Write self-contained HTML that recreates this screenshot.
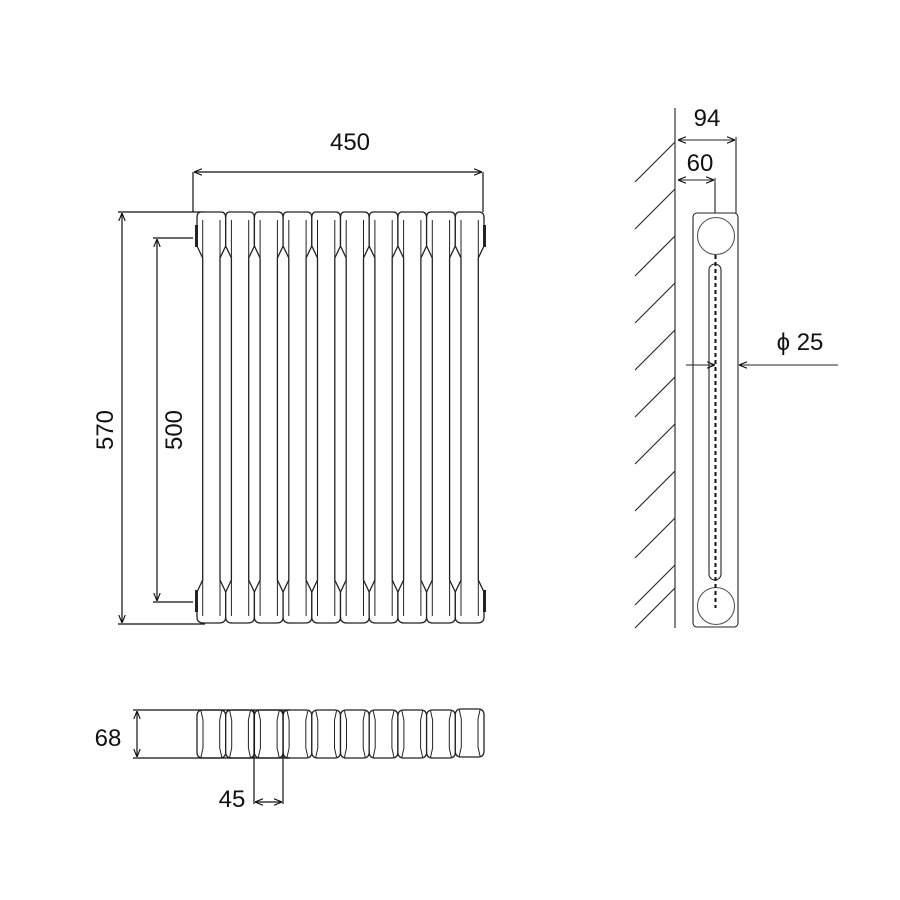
<!DOCTYPE html>
<html><head><meta charset="utf-8"><style>
html,body{margin:0;padding:0;background:#fff;}
svg{display:block;}
text{font-family:"Liberation Sans",sans-serif;fill:#111;}
</style></head><body>
<svg width="900" height="900" viewBox="0 0 900 900" xmlns="http://www.w3.org/2000/svg">
<defs>
<marker id="a" viewBox="0 0 10 10" refX="10" refY="5" markerWidth="8" markerHeight="8" orient="auto-start-reverse" markerUnits="userSpaceOnUse"><path d="M0,1 L10,5 L0,9" fill="none" stroke="#111" stroke-width="1.4"/></marker>
<g id="col">
 <path d="M4,0 H24 Q28.7,0 28.7,6 V34 L23,46 V368 L28.7,380 V405 Q28.7,411 22,411 H6.5 Q0,411 0,405 V380 L5.7,368 V46 L0,34 V6 Q0,0 4,0 Z" fill="#fff" stroke="#222" stroke-width="1.3"/>
 <line x1="5.7" y1="8" x2="5.7" y2="46" stroke="#222" stroke-width="1"/>
 <line x1="23" y1="8" x2="23" y2="46" stroke="#222" stroke-width="1"/>
 <line x1="5.7" y1="368" x2="5.7" y2="404" stroke="#222" stroke-width="1"/>
 <line x1="23" y1="368" x2="23" y2="404" stroke="#222" stroke-width="1"/>
</g>
<g id="bcol">
 <path d="M6,0 H22.7 Q28.7,0 28.7,6 V42 Q28.7,48 22.7,48 H6 Q0,48 0,42 V6 Q0,0 6,0 Z" fill="#fff" stroke="#222" stroke-width="1.3"/>
 <path d="M4,1 L6,10 V38 L4,47 M24.7,1 L22.7,10 V38 L24.7,47" fill="none" stroke="#222" stroke-width="1"/>
</g>
</defs>
<g stroke="#111" stroke-width="1.2" fill="none">
 <line x1="193" y1="172" x2="193" y2="212"/><line x1="483" y1="172" x2="483" y2="212"/>
 <line x1="194" y1="172" x2="482" y2="172" marker-start="url(#a)" marker-end="url(#a)"/>
 <line x1="118" y1="212" x2="205" y2="212"/><line x1="118" y1="624" x2="205" y2="624"/>
 <line x1="122" y1="213" x2="122" y2="623" marker-start="url(#a)" marker-end="url(#a)"/>
 <line x1="153" y1="238" x2="193" y2="238"/><line x1="153" y1="602" x2="193" y2="602"/>
 <line x1="157" y1="239" x2="157" y2="601" marker-start="url(#a)" marker-end="url(#a)"/>
</g>
<g>
 <use href="#col" x="197" y="212"/><use href="#col" x="225.7" y="212"/><use href="#col" x="254.4" y="212"/>
 <use href="#col" x="283.1" y="212"/><use href="#col" x="311.8" y="212"/><use href="#col" x="340.5" y="212"/>
 <use href="#col" x="369.2" y="212"/><use href="#col" x="397.9" y="212"/><use href="#col" x="426.6" y="212"/>
 <use href="#col" x="455.3" y="212"/>
</g>
<rect x="195" y="225" width="3" height="22" fill="#222"/><rect x="483" y="225" width="3" height="22" fill="#222"/>
<rect x="195" y="590" width="3" height="22" fill="#222"/><rect x="483" y="590" width="3" height="22" fill="#222"/>
<text x="350" y="150" font-size="24" text-anchor="middle">450</text>
<text transform="translate(113,430) rotate(-90)" font-size="24" text-anchor="middle">570</text>
<text transform="translate(182,430) rotate(-90)" font-size="24" text-anchor="middle">500</text>

<g>
 <use href="#bcol" x="197" y="710"/><use href="#bcol" x="225.7" y="710"/><use href="#bcol" x="254.4" y="710"/>
 <use href="#bcol" x="283.1" y="710"/><use href="#bcol" x="311.8" y="710"/><use href="#bcol" x="340.5" y="710"/>
 <use href="#bcol" x="369.2" y="710"/><use href="#bcol" x="397.9" y="710"/><use href="#bcol" x="426.6" y="710"/>
 <use href="#bcol" x="455.3" y="709"/>
</g>
<g stroke="#111" stroke-width="1.2" fill="none">
 <line x1="133" y1="710" x2="290" y2="710"/><line x1="133" y1="758" x2="290" y2="758"/>
 <line x1="137" y1="711" x2="137" y2="757" marker-start="url(#a)" marker-end="url(#a)"/>
 <line x1="254" y1="710" x2="254" y2="804"/><line x1="283" y1="710" x2="283" y2="804"/>
 <line x1="255" y1="802" x2="282" y2="802" marker-start="url(#a)" marker-end="url(#a)"/>
</g>
<text x="108" y="746" font-size="24" text-anchor="middle">68</text>
<text x="232" y="807" font-size="24" text-anchor="middle">45</text>

<g stroke="#222" stroke-width="1.1" fill="none">
 <line x1="675" y1="108" x2="675" y2="628"/>
 <line x1="675" y1="142" x2="635" y2="182"/><line x1="675" y1="189" x2="635" y2="229"/>
 <line x1="675" y1="236" x2="635" y2="276"/><line x1="675" y1="283" x2="635" y2="323"/>
 <line x1="675" y1="330" x2="635" y2="370"/><line x1="675" y1="377" x2="635" y2="417"/>
 <line x1="675" y1="424" x2="635" y2="464"/><line x1="675" y1="471" x2="635" y2="511"/>
 <line x1="675" y1="518" x2="635" y2="558"/><line x1="675" y1="565" x2="635" y2="605"/>
 <line x1="675" y1="588" x2="635" y2="628"/>
 <rect x="693" y="213" width="45" height="414" rx="4"/>
 <circle cx="716" cy="236" r="18.5" stroke="#555"/>
 <circle cx="716" cy="606" r="18.5" stroke="#555"/>
 <rect x="709" y="264" width="12" height="316" rx="6"/>
 <line x1="715.5" y1="255" x2="715.5" y2="608" stroke="#111" stroke-width="2" stroke-dasharray="4,3"/>
 <line x1="736" y1="137" x2="736" y2="213"/><line x1="715" y1="178" x2="715" y2="213"/>
 <line x1="678" y1="140" x2="735" y2="140" marker-start="url(#a)" marker-end="url(#a)"/>
 <line x1="678" y1="180" x2="714" y2="180" marker-start="url(#a)" marker-end="url(#a)"/>
 <line x1="686" y1="365" x2="715" y2="365" marker-end="url(#a)"/>
 <line x1="838" y1="365" x2="739" y2="365" marker-end="url(#a)"/>
</g>
<text x="707" y="126" font-size="24" text-anchor="middle">94</text>
<text x="700" y="171" font-size="24" text-anchor="middle">60</text>
<text x="800" y="350" font-size="24" text-anchor="middle">ϕ 25</text>
</svg>
</body></html>
